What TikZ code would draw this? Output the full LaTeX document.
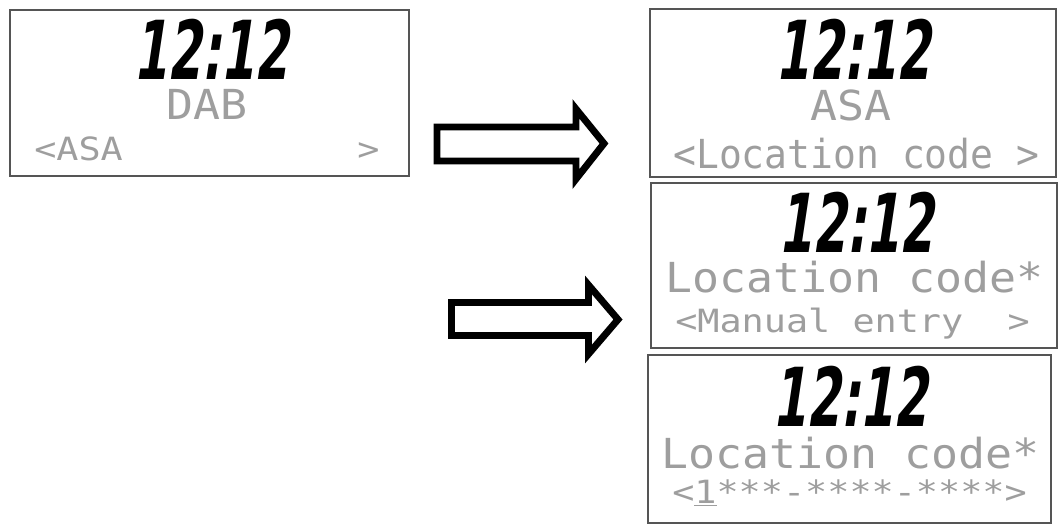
\documentclass[tikz,border=0pt]{standalone}
\usepackage{fontspec}
\usetikzlibrary{fit}
\newfontfamily\clockfont{DejaVu Sans Bold}[FakeSlant=0.15,FakeStretch=0.6]
\newfontfamily\dotsmallfont{DejaVu Sans Mono}[FakeStretch=1.15]
\newfontfamily\dotbigfont{DejaVu Sans Mono}[FakeStretch=1.085]
\newfontfamily\dotnarrowfont{DejaVu Sans Mono}[FakeStretch=0.95]
\definecolor{dotgray}{RGB}{158,158,158}
\definecolor{framegray}{RGB}{85,85,85}
\tikzset{
  panel/.style={draw=framegray, line width=1.1pt, inner sep=0pt},
  clock/.style={font=\clockfont\fontsize{61}{61}\selectfont, inner sep=0pt, anchor=center},
  dotsmall/.style={font=\dotsmallfont\fontsize{24}{24}\selectfont, text=dotgray, inner sep=0pt, anchor=base west},
  dotnarrow/.style={font=\dotnarrowfont\fontsize{30}{30}\selectfont, text=dotgray, inner sep=0pt, anchor=base west},
  dotbig/.style={font=\dotbigfont\fontsize{31}{31}\selectfont, text=dotgray, inner sep=0pt, anchor=base west},
  dotmid/.style={font=\dotbigfont\fontsize{31}{31}\selectfont, text=dotgray, inner sep=0pt, anchor=base},
  blockarrow/.style={draw=black, line width=5.2pt, fill=white, line join=miter, miter limit=10}
}
\begin{document}
\begin{tikzpicture}[x=0.75pt,y=-0.75pt]
\useasboundingbox (0,0) rectangle (1059,526);
% panels
\node[panel, fit={(10,10) (409,176)}] (p1) {};
\node[panel, fit={(650,9) (1056,177)}] (p2) {};
\node[panel, fit={(651,183) (1057,348)}] (p3) {};
\node[panel, fit={(648,355) (1051,523)}] (p4) {};
% panel 1
\node[clock] (c1) at (211,49.5) {12:12};
\node[dotmid] (t1a) at (207,119) {DAB};
\node[dotsmall] (t1b) at (34,160) {<ASA};
\node[dotsmall] (t1c) at (357,160) {>};
% panel 2
\node[clock] (c2) at (853,49.5) {12:12};
\node[dotmid] (t2a) at (851,120) {ASA};
\node[dotnarrow] (t2b) at (673,168) {<Location code >};
% panel 3
\node[clock] (c3) at (856,222.5) {12:12};
\node[dotbig] (t3a) at (665,292) {Location code*};
\node[dotsmall] (t3b) at (675,332) {<Manual entry~~>};
% panel 4
\node[clock] (c4) at (850,396) {12:12};
\node[dotbig] (t4a) at (661,468) {Location code*};
\node[dotsmall] (t4b) at (672,503) {<\underline{1}***-****-****>};
% block arrows
\draw[blockarrow] (437,127) -- (576,127) -- (576,109) -- (604,143.5) -- (576,179) -- (576,161) -- (437,161) -- cycle;
\draw[blockarrow] (451.5,302.5) -- (588.5,302.5) -- (588.5,285) -- (618,319.5) -- (588.5,354) -- (588.5,335.5) -- (451.5,335.5) -- cycle;
\end{tikzpicture}
\end{document}
